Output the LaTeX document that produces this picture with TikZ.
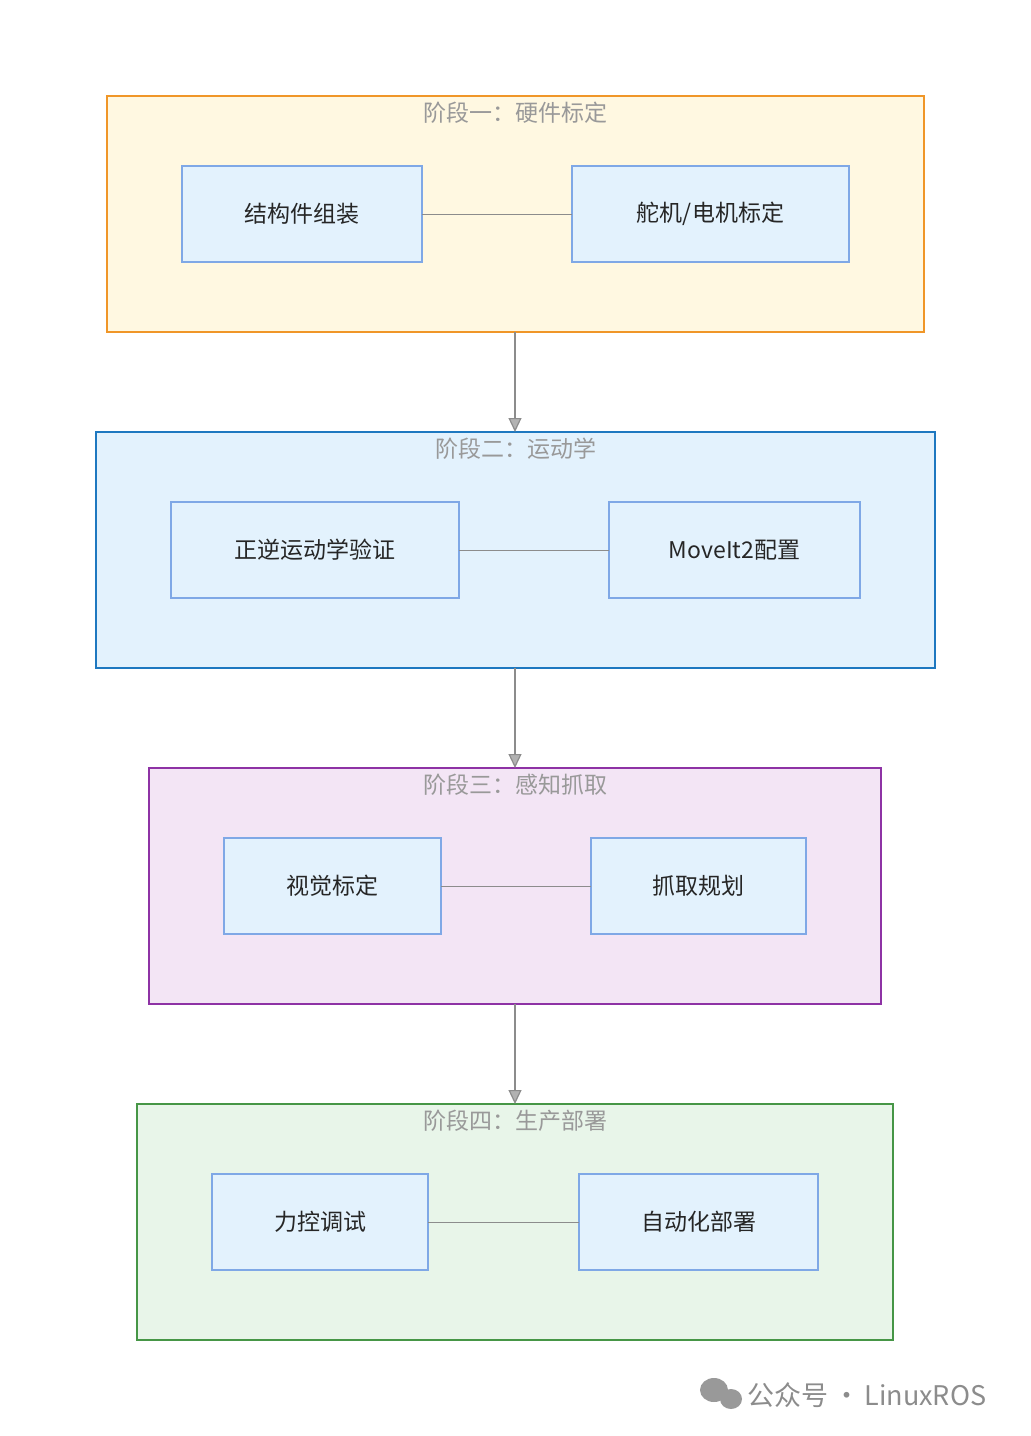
\documentclass[tikz,border=0pt]{standalone}
\usepackage{fontspec}
\setmainfont{Noto Sans CJK SC}
\usetikzlibrary{arrows.meta}
\definecolor{nfill}{HTML}{E3F2FD}\definecolor{nline}{HTML}{7FA8E6}
\definecolor{f1}{HTML}{FFF8E1}\definecolor{l1}{HTML}{F09628}
\definecolor{f2}{HTML}{E3F2FD}\definecolor{l2}{HTML}{1E78C0}
\definecolor{f3}{HTML}{F3E5F5}\definecolor{l3}{HTML}{8E32A5}
\definecolor{f4}{HTML}{E8F5E9}\definecolor{l4}{HTML}{469646}
\tikzset{x=1pt,y=-1pt,
 clus/.style={draw=#1,line width=1.4pt,inner sep=0pt},
 nd/.style={draw=nline,fill=nfill,line width=1.4pt},
 lab/.style={font=\fontsize{23}{26}\selectfont,text=black!85},
 ttl/.style={font=\fontsize{23}{26}\selectfont,text=black!40},
 link/.style={draw=black!45,line width=1pt},
 arr/.style={draw=black!45,line width=1.2pt,-{Triangle[open,length=14pt,width=13pt,fill=black!30]}}}
\begin{document}
\begin{tikzpicture}
\useasboundingbox[fill=white] (0,0) rectangle (1031,1436);
\def\clu#1#2#3#4#5#6#7{%
 \fill[f#6] (#2,#3) rectangle (#4,#5);
 \draw[clus=l#6] (#2,#3) rectangle (#4,#5);
 \node[ttl] (#1t) at ({(#2+#4)/2},{#3+17}) {#7};
 \coordinate (#1top) at (515,#3); \coordinate (#1bot) at (515,#5);}
\clu{c1}{107}{96}{924}{332}{1}{阶段一：硬件标定}
\clu{c2}{96}{432}{935}{668}{2}{阶段二：运动学}
\clu{c3}{149}{768}{881}{1004}{3}{阶段三：感知抓取}
\clu{c4}{137}{1104}{893}{1340}{4}{阶段四：生产部署}
\def\nod#1#2#3#4#5#6{\draw[nd] (#2,#3) rectangle (#4,#5);
 \node[lab] (#1) at ({(#2+#4)/2},{(#3+#5)/2}) {#6};
 \coordinate (#1l) at (#2,{(#3+#5)/2}); \coordinate (#1r) at (#4,{(#3+#5)/2});}
\nod{a}{182}{166}{422}{262}{结构件组装}
\nod{b}{572}{166}{849}{262}{舵机/电机标定}
\nod{c}{171}{502}{459}{598}{正逆运动学验证}
\nod{d}{609}{502}{860}{598}{MoveIt2配置}
\nod{e}{224}{838}{441}{934}{视觉标定}
\nod{f}{591}{838}{806}{934}{抓取规划}
\nod{g}{212}{1174}{428}{1270}{力控调试}
\nod{h}{579}{1174}{818}{1270}{自动化部署}
\draw[link] (ar)--(bl); \draw[link] (cr)--(dl); \draw[link] (er)--(fl); \draw[link] (gr)--(hl);
\draw[arr] (c1bot)--(c2top); \draw[arr] (c2bot)--(c3top); \draw[arr] (c3bot)--(c4top);
\fill[black!40] (714,1390) ellipse (14 and 12); \fill[black!40] (731,1399) ellipse (11 and 10);
\node[font=\fontsize{27}{30}\selectfont,text=black!45,anchor=west] (wm) at (744,1395) {公众号\,·\,LinuxROS};
\end{tikzpicture}
\end{document}
